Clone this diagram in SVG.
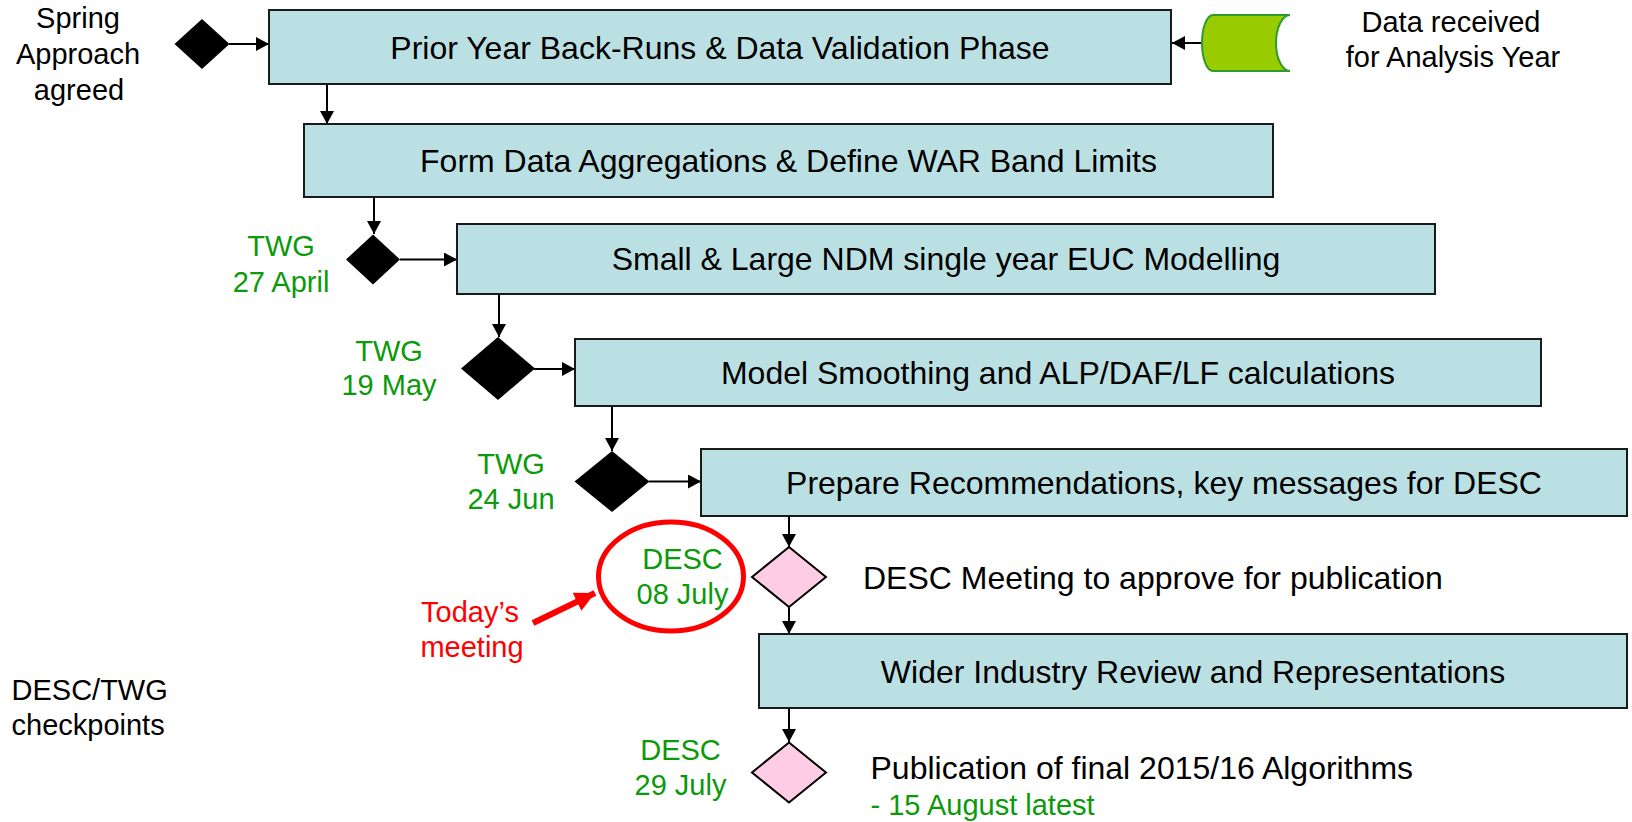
<svg xmlns="http://www.w3.org/2000/svg" width="1632" height="822" viewBox="0 0 1632 822">
<style>
  text { font-family: "Liberation Sans", Arial, sans-serif; }
  .box { fill: #BBE0E3; stroke: #1a1a1a; stroke-width: 2; }
  .bt { font-size: 32px; fill: #000; text-anchor: middle; }
  .st { font-size: 29px; fill: #000; }
  .lt { font-size: 32px; fill: #000; }
  .gt { font-size: 29px; fill: #0A9A0A; text-anchor: middle; }
  .rt { font-size: 29px; fill: #FF0000; text-anchor: middle; }
  .ms { fill: #000; }
  .pk { fill: #FFCCE5; stroke: #000; stroke-width: 2; }
  .cn { stroke: #000; stroke-width: 2; fill: none; marker-end: url(#ah); }
</style>
<defs>
  <marker id="ah" markerUnits="userSpaceOnUse" markerWidth="14" markerHeight="14" refX="13" refY="7" orient="auto">
    <path d="M0,0 L13,7 L0,14 Z" fill="#000"/>
  </marker>
  <marker id="rah" markerUnits="userSpaceOnUse" markerWidth="22" markerHeight="22" refX="20" refY="10" orient="auto">
    <path d="M0,0 L20,10 L0,20 Z" fill="#FF0000"/>
  </marker>
</defs>
<rect width="1632" height="822" fill="#fff"/>

<g id="connectors">
  <line class="cn" x1="229" y1="44" x2="269" y2="44"/>
  <line class="cn" x1="1202" y1="43" x2="1172" y2="43"/>
  <line class="cn" x1="327" y1="84" x2="327" y2="124"/>
  <line class="cn" x1="374" y1="197" x2="374" y2="234"/>
  <line class="cn" x1="400" y1="259.5" x2="457" y2="259.5"/>
  <line class="cn" x1="499" y1="294" x2="499" y2="337"/>
  <line class="cn" x1="534" y1="369" x2="575" y2="369"/>
  <line class="cn" x1="612" y1="406" x2="612" y2="451"/>
  <line class="cn" x1="649" y1="481.5" x2="701" y2="481.5"/>
  <line class="cn" x1="789" y1="516" x2="789" y2="547"/>
  <line class="cn" x1="789" y1="607" x2="789" y2="634"/>
  <line class="cn" x1="789" y1="708" x2="789" y2="742"/>
  <line x1="533" y1="623" x2="595" y2="593" stroke="#FF0000" stroke-width="6" marker-end="url(#rah)"/>
</g>

<g id="spring">
  <polygon class="ms" points="202,19 229.5,44 202,69 174.5,44"/>
  <text class="st" text-anchor="middle" x="78" y="28">Spring</text>
  <text class="st" text-anchor="middle" x="78" y="64">Approach</text>
  <text class="st" text-anchor="middle" x="79" y="100">agreed</text>
</g>

<g id="data-received">
  <path d="M1213,15 H1290 A14,28 0 0 0 1290,71 H1213 A11,28 0 0 1 1213,15 Z" fill="#99CC00" stroke="#2E9B2E" stroke-width="2"/>
  <text class="st" text-anchor="middle" x="1451" y="32">Data received</text>
  <text class="st" text-anchor="middle" x="1453" y="67">for Analysis Year</text>
</g>

<g id="box1">
  <rect class="box" x="269" y="10" width="902" height="74"/>
  <text class="bt" x="720" y="59">Prior Year Back-Runs &amp; Data Validation Phase</text>
</g>
<g id="box2">
  <rect class="box" x="304" y="124" width="969" height="73"/>
  <text class="bt" x="788.5" y="172">Form Data Aggregations &amp; Define WAR Band Limits</text>
</g>
<g id="twg27">
  <polygon class="ms" points="373,234.5 400,259.5 373,284.5 346,259.5"/>
  <text class="gt" x="281" y="256">TWG</text>
  <text class="gt" x="281" y="291.5">27 April</text>
</g>
<g id="box3">
  <rect class="box" x="457" y="224" width="978" height="70"/>
  <text class="bt" x="946" y="270">Small &amp; Large NDM single year EUC Modelling</text>
</g>
<g id="twg19">
  <polygon class="ms" points="498,337 535,368.5 498,400 461,368.5"/>
  <text class="gt" x="389" y="360.5">TWG</text>
  <text class="gt" x="389" y="395">19 May</text>
</g>
<g id="box4">
  <rect class="box" x="575" y="339" width="966" height="67"/>
  <text class="bt" x="1058" y="384">Model Smoothing and ALP/DAF/LF calculations</text>
</g>
<g id="twg24">
  <polygon class="ms" points="612,451 649.5,481.5 612,512 574.5,481.5"/>
  <text class="gt" x="511" y="474">TWG</text>
  <text class="gt" x="511" y="509">24 Jun</text>
</g>
<g id="box5">
  <rect class="box" x="701" y="449" width="926" height="67"/>
  <text class="bt" x="1164" y="494">Prepare Recommendations, key messages for DESC</text>
</g>
<g id="desc08">
  <ellipse cx="671" cy="576.5" rx="72.5" ry="54.5" fill="none" stroke="#FF0000" stroke-width="5"/>
  <text class="gt" x="682.5" y="569">DESC</text>
  <text class="gt" x="682.5" y="603.5">08 July</text>
  <polygon class="pk" points="789,547 826,577 789,607 752,577"/>
  <text class="lt" x="863" y="588.5">DESC Meeting to approve for publication</text>
</g>
<g id="todays-meeting">
  <text class="rt" x="470" y="621.5">Today’s</text>
  <text class="rt" x="472" y="656.5">meeting</text>
</g>
<g id="box6">
  <rect class="box" x="759" y="634" width="868" height="74"/>
  <text class="bt" x="1193" y="682.5">Wider Industry Review and Representations</text>
</g>
<g id="desc29">
  <polygon class="pk" points="789,742.5 826,772.5 789,802.5 752,772.5"/>
  <text class="gt" x="680.5" y="760">DESC</text>
  <text class="gt" x="680.5" y="795">29 July</text>
  <text class="lt" x="870.5" y="779">Publication of final 2015/16 Algorithms</text>
  <text class="st" x="870.5" y="814.5" style="fill:#0A9A0A">- 15 August latest</text>
</g>
<g id="legend">
  <text class="st" x="11.5" y="700">DESC/TWG</text>
  <text class="st" x="11.5" y="735">checkpoints</text>
</g>
</svg>
